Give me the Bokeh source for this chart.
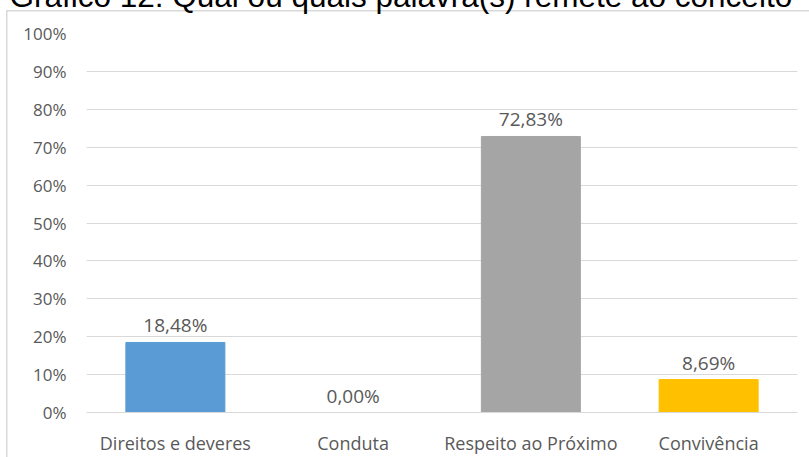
from bokeh.plotting import figure
from bokeh.models import ColumnDataSource, FactorRange, Range1d, PrintfTickFormatter, FixedTicker
from bokeh.embed import file_html
from bokeh.resources import INLINE

title_text = "Gráfico 12: Qual ou quais palavra(s) remete ao conceito"
categories = ["Direitos e deveres", "Conduta", "Respeito ao Próximo", "Convivência"]
values = [18.48, 0.00, 72.83, 8.69]
colors = ["#5B9BD5", "#ED7D31", "#A5A5A5", "#FFC000"]
y_ticks = [0, 10, 20, 30, 40, 50, 60, 70, 80, 90, 100]

labels = [f"{v:.2f}%".replace(".", ",") for v in values]
src = ColumnDataSource(dict(cat=categories, val=values, col=colors, lab=labels))

FONT = "Open Sans"
GREY = "#595959"
K = 50  # hidden strip above the page top

p = figure(x_range=FactorRange(*categories, range_padding=0), y_range=Range1d(0, 100),
           width=809, height=457 + K, output_backend="svg", toolbar_location=None,
           min_border_left=86, min_border_right=12, min_border_top=33 + K, min_border_bottom=40)
line = "linear-gradient(#D9D9D9, #D9D9D9)"
p.styles = {
    "margin-top": f"-{K}px",
    "background-image": f"{line}, {line}",
    "background-repeat": "no-repeat",
    "background-position": f"6px {K + 9.5}px, 6px {K + 9.5}px",
    "background-size": "100% 1.5px, 1.5px 100%",
}
p.outline_line_color = None
p.background_fill_color = None
p.border_fill_color = None

p.title.text = title_text
p.title.text_font = "Liberation Sans"
p.title.text_font_size = "31.5px"
p.title.text_font_style = "normal"
p.title.text_color = "black"
p.title.align = "left"
p.title.offset = -77
p.title.standoff = 40

p.vbar(x="cat", top="val", width=0.557, color="col", source=src)
p.text(x="cat", y="val", text="lab", source=src, text_align="center", text_baseline="bottom",
       y_offset=-4, text_font_size="19px", text_color=GREY, text_font={"value": FONT})

p.yaxis.ticker = FixedTicker(ticks=y_ticks)
p.yaxis.formatter = PrintfTickFormatter(format="%d%%")
p.yaxis.axis_line_color = None
p.yaxis.major_tick_line_color = None
p.yaxis.minor_tick_line_color = None
p.yaxis.major_label_text_font = FONT
p.yaxis.major_label_text_font_size = "17px"
p.yaxis.major_label_text_color = GREY
p.yaxis.major_label_standoff = 14

p.xaxis.axis_line_color = "#D9D9D9"
p.xaxis.major_tick_line_color = None
p.xaxis.minor_tick_line_color = None
p.xaxis.major_label_text_font = FONT
p.xaxis.major_label_text_font_size = "18px"
p.xaxis.major_label_text_color = GREY
p.xaxis.major_label_standoff = 12

p.xgrid.grid_line_color = None
p.ygrid.grid_line_color = "#D9D9D9"
p.ygrid.ticker = FixedTicker(ticks=y_ticks)

open("out.html", "w").write(file_html(p, INLINE))
